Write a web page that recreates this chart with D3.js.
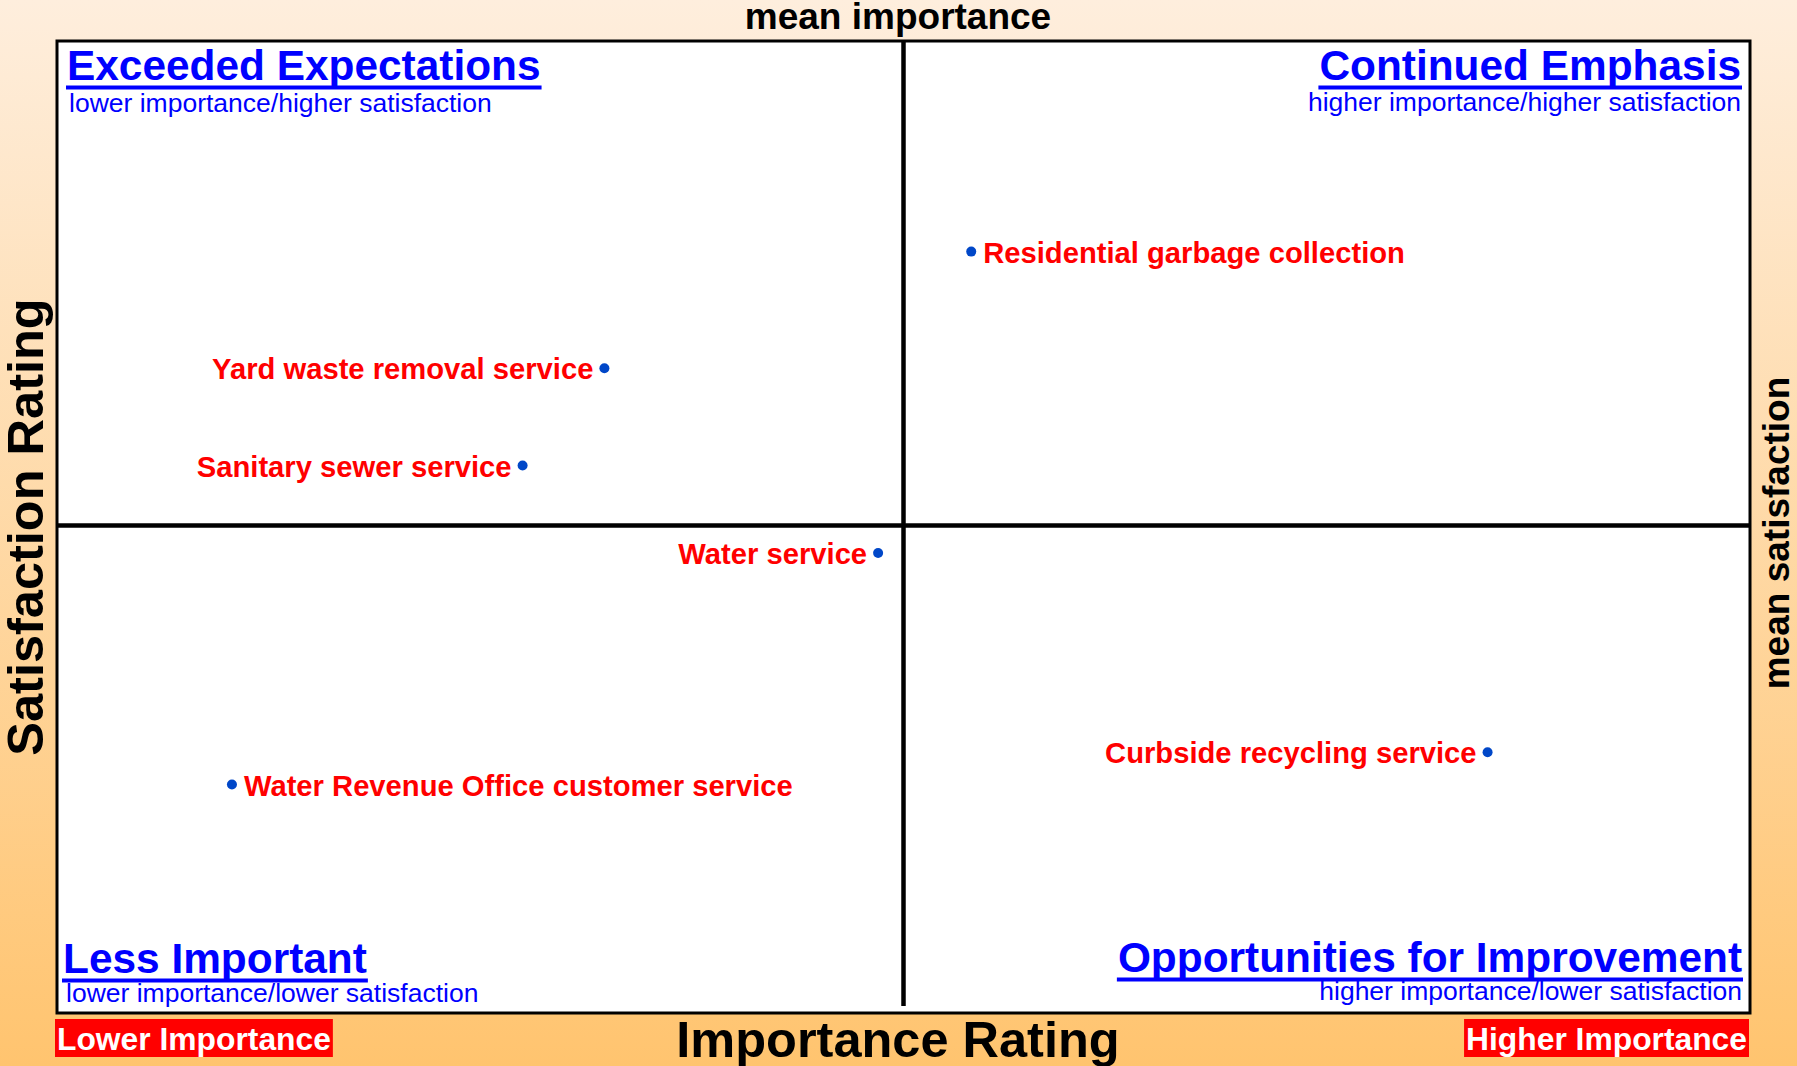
<!DOCTYPE html>
<html>
<head>
<meta charset="utf-8">
<script src="https://cdn.jsdelivr.net/npm/d3@7"></script>
<style>
  html, body { margin: 0; padding: 0; background: #fff; }
  svg { display: block; }
  text { font-family: "Liberation Sans", Arial, Helvetica, sans-serif; }
</style>
</head>
<body>
<svg id="chart" width="1797" height="1066"></svg>
<script>
// ---- data ----
const categories = [
  "Residential garbage collection",
  "Yard waste removal service",
  "Sanitary sewer service",
  "Water service",
  "Water Revenue Office customer service",
  "Curbside recycling service"
];
const importance   = [32.4, 19.4, 16.5, 29.1, 6.2, 50.7];
const satisfaction = [87.0, 79.8, 73.8, 68.4, 54.1, 56.1];
const meanImportance = 30.0;
const meanSatisfaction = 70.1;
const labelSide = ["right", "left", "left", "left", "right", "left"];

const quadrantTitles = ["Exceeded Expectations", "Continued Emphasis", "Less Important", "Opportunities for Improvement"];
const quadrantSubtitles = [
  "lower importance/higher satisfaction",
  "higher importance/higher satisfaction",
  "lower importance/lower satisfaction",
  "higher importance/lower satisfaction"
];
const axisTitles = { x: "Importance Rating", y: "Satisfaction Rating", top: "mean importance", right: "mean satisfaction" };
const endLabels = ["Lower Importance", "Higher Importance"];

// ---- layout ----
const W = 1797, H = 1066;
const box = { x0: 57, x1: 1750, y0: 41, y1: 1013 };

const svg = d3.select("#chart");

const defs = svg.append("defs");
const grad = defs.append("linearGradient").attr("id", "bg").attr("x1", 0).attr("y1", 0).attr("x2", 0).attr("y2", 1);
grad.append("stop").attr("offset", "0%").attr("stop-color", "#FEEEDD");
grad.append("stop").attr("offset", "100%").attr("stop-color", "#FFC46F");
svg.append("rect").attr("width", W).attr("height", H).attr("fill", "url(#bg)");

const x = d3.scaleLinear().domain([0, 60]).range([box.x0, box.x1]);
const y = d3.scaleLinear().domain([40, 100]).range([box.y1, box.y0]);

// plot box
svg.append("rect")
  .attr("x", box.x0).attr("y", box.y0)
  .attr("width", box.x1 - box.x0).attr("height", box.y1 - box.y0)
  .attr("fill", "#fff").attr("stroke", "#000").attr("stroke-width", 3);

// mean lines
svg.append("line")
  .attr("x1", box.x0).attr("x2", box.x1)
  .attr("y1", y(meanSatisfaction)).attr("y2", y(meanSatisfaction))
  .attr("stroke", "#000").attr("stroke-width", 4.5);
svg.append("line")
  .attr("x1", x(meanImportance)).attr("x2", x(meanImportance))
  .attr("y1", box.y0).attr("y2", box.y1 - 7)
  .attr("stroke", "#000").attr("stroke-width", 4.5);

// quadrant titles
const qPos = [
  { x: 67, base: 80, sub: 112, anchor: "start", subx: 69 },
  { x: 1741, base: 80, sub: 111, anchor: "end", subx: 1741 },
  { x: 63, base: 973, sub: 1002, anchor: "start", subx: 66 },
  { x: 1742, base: 972, sub: 1000, anchor: "end", subx: 1742 }
];
quadrantTitles.forEach((t, i) => {
  const p = qPos[i];
  const tx = svg.append("text")
    .attr("x", p.x).attr("y", p.base)
    .attr("text-anchor", p.anchor)
    .attr("font-size", 42.4).attr("font-weight", "bold")
    .attr("fill", "#0000FF").text(t);
  const len = tx.node().getComputedTextLength();
  const sx = p.anchor === "start" ? p.x - 1 : p.x - len - 1;
  svg.append("rect")
    .attr("x", sx).attr("y", p.base + 5.5)
    .attr("width", len + 2).attr("height", 4)
    .attr("fill", "#0000FF");
  svg.append("text")
    .attr("x", p.subx).attr("y", p.sub)
    .attr("text-anchor", p.anchor)
    .attr("font-size", 26.5)
    .attr("fill", "#0000FF").text(quadrantSubtitles[i]);
});

// points
const pts = categories.map((c, i) => ({ c, imp: importance[i], sat: satisfaction[i], side: labelSide[i] }));
const g = svg.append("g");
g.selectAll("circle").data(pts).join("circle")
  .attr("cx", d => x(d.imp)).attr("cy", d => y(d.sat))
  .attr("r", 5).attr("fill", "#0047C8");
g.selectAll("text").data(pts).join("text")
  .attr("x", d => x(d.imp) + (d.side === "right" ? 12 : -11))
  .attr("y", d => y(d.sat))
  .attr("dy", "0.38em")
  .attr("text-anchor", d => d.side === "right" ? "start" : "end")
  .attr("font-size", 29.2).attr("font-weight", "bold")
  .attr("fill", "#FF0000").text(d => d.c);

// axis titles
svg.append("text").attr("x", 898).attr("y", 29).attr("text-anchor", "middle")
  .attr("font-size", 37).attr("font-weight", "bold").attr("fill", "#000").text(axisTitles.top);
svg.append("text").attr("x", 898).attr("y", 1057).attr("text-anchor", "middle")
  .attr("font-size", 50.5).attr("font-weight", "bold").attr("fill", "#000").text(axisTitles.x);
svg.append("text").attr("transform", "translate(43,527) rotate(-90)").attr("text-anchor", "middle")
  .attr("font-size", 50.5).attr("font-weight", "bold").attr("fill", "#000").text(axisTitles.y);
svg.append("text").attr("transform", "translate(1789,533) rotate(-90)").attr("text-anchor", "middle")
  .attr("font-size", 37).attr("font-weight", "bold").attr("fill", "#000").text(axisTitles.right);

// end labels with red background
const endPos = [{ x: 55, anchor: "start" }, { x: 1749, anchor: "end" }];
endLabels.forEach((t, i) => {
  const p = endPos[i];
  const grp = svg.append("g");
  const rect = grp.append("rect").attr("fill", "#FF0000");
  const tx = grp.append("text")
    .attr("x", p.anchor === "start" ? p.x + 2 : p.x - 2).attr("y", 1050)
    .attr("text-anchor", p.anchor)
    .attr("font-size", 31.8).attr("font-weight", "bold")
    .attr("fill", "#fff").text(t);
  const len = tx.node().getComputedTextLength();
  rect.attr("x", p.anchor === "start" ? p.x : p.x - len - 4)
    .attr("y", 1019).attr("width", len + 4).attr("height", 38);
});
</script>
</body>
</html>
